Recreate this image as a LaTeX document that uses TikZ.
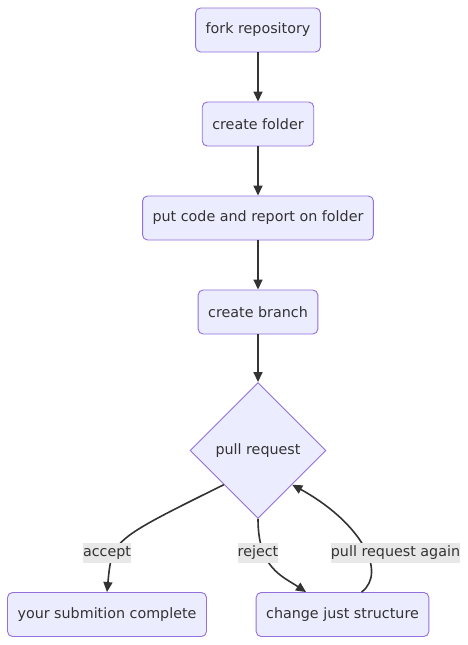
\documentclass[tikz,border=0pt]{standalone}
\usepackage{fontspec}
\setmainfont{DejaVu Sans}
\usepackage{tikz}
\usetikzlibrary{shapes.geometric,arrows.meta,calc}
\definecolor{boxfill}{HTML}{ECECFF}
\definecolor{boxline}{HTML}{9370DB}
\definecolor{ink}{HTML}{333333}
\definecolor{labbg}{HTML}{E8E8E8}
\begin{document}
\begin{tikzpicture}[x=1pt,y=1pt,
  font=\fontsize{14.3}{17}\selectfont, text=ink,
  box/.style={draw=boxline,fill=boxfill,rounded corners=5pt,line width=0.9pt,minimum height=44pt,inner xsep=10pt,align=center},
  dec/.style={draw=boxline,fill=boxfill,diamond,line width=0.9pt,minimum width=136pt,minimum height=136pt,inner sep=0pt,align=center},
  arr/.style={-{Triangle[length=10pt,width=9pt]},line width=1.6pt,draw=ink},
  lab/.style={fill=labbg,inner xsep=0pt,inner ysep=3pt}]
\fill[white] (0,0) rectangle (468,-645);
% ---------- main column ----------
\node[box] (fork) at (258,-30) {fork repository};
\node[box] (folder) at (258,-124) {create folder};
\node[box] (code) at (258,-218) {put code and report on folder};
\node[box] (branch) at (258,-312) {create branch};
\node[dec] (pr) at (258,-450.5) {pull request};
\draw[arr] (fork) -- (folder);
\draw[arr] (folder) -- (code);
\draw[arr] (code) -- (branch);
\draw[arr] (branch) -- (pr);
% ---------- outcomes ----------
\node[box] (done) at (107,-614.5) {your submition complete};
\node[box] (fix) at (342.5,-614.5) {change just structure};
\draw[arr] (pr.south west) .. controls (112,-540) .. (done.north);
\draw[arr] (pr.south) .. controls (258,-568) and (282,-576) .. ($(fix.north west)!0.29!(fix.north east)$);
\draw[arr] ($(fix.north west)!0.61!(fix.north east)$) .. controls (388,-572) and (360,-522) .. (pr.south east);
\node[lab] (acc) at (107,-553) {accept};
\node[lab] (rej) at (258,-553) {reject};
\node[lab] (again) at (395.5,-553) {pull request again};
\end{tikzpicture}
\end{document}
